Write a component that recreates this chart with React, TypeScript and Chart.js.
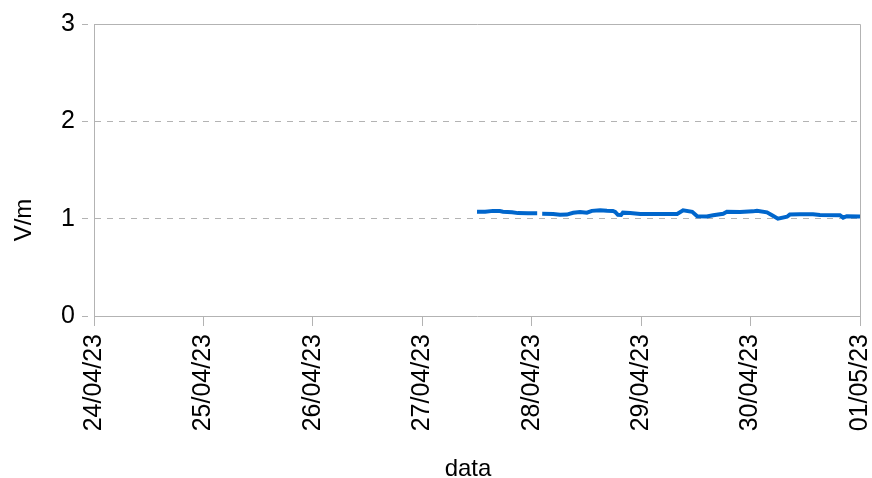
import React, { useEffect, useRef } from "react";
import { Chart, registerables } from "chart.js";

Chart.register(...registerables);

// Hours elapsed since 24/04/23 00:00
const hours: number[] = [
  84.0, 85.8, 87.5, 89.0, 89.7, 91.7, 93.0, 95.2, 97.2, 97.8,
  98.3, 100.7, 102.2, 103.7, 105.1, 106.6, 108.1, 109.2, 111.0, 112.5,
  113.8, 114.3, 114.9, 115.6, 116.0, 117.6, 119.8, 124.1, 127.9, 129.2,
  131.2, 132.3, 134.4, 135.8, 138.0, 138.8, 141.7, 144.5, 145.4, 147.6,
  148.9, 150.0, 152.0, 152.6, 154.8, 157.7, 159.2, 163.6, 164.3, 165.1,
  168.0,
];
// Electric field (V/m); null marks the gap in the record
const values: (number | null)[] = [
  1.072, 1.07, 1.08, 1.078, 1.072, 1.066, 1.057, 1.055, 1.055, null,
  1.05, 1.048, 1.04, 1.042, 1.06, 1.068, 1.062, 1.08, 1.086, 1.082,
  1.08, 1.07, 1.04, 1.038, 1.062, 1.058, 1.048, 1.048, 1.048, 1.085,
  1.07, 1.025, 1.022, 1.035, 1.05, 1.07, 1.068, 1.075, 1.082, 1.065,
  1.03, 1.0, 1.02, 1.042, 1.045, 1.045, 1.038, 1.035, 1.01, 1.025,
  1.022,
];
const tickLabels: string[] = [
  "24/04/23", "25/04/23", "26/04/23", "27/04/23",
  "28/04/23", "29/04/23", "30/04/23", "01/05/23",
];
const yTicks: number[] = [0, 1, 2, 3];
const xTitle = "data";
const yTitle = "V/m";

const FONT = "'Liberation Sans', Arial, sans-serif";
const GRID = "#b3b3b3";

const borderPlugin = {
  id: "plotBorder",
  afterDraw(chart: any) {
    const { ctx, chartArea } = chart;
    ctx.save();
    ctx.strokeStyle = GRID;
    ctx.lineWidth = 1;
    ctx.beginPath();
    ctx.moveTo(Math.round(chartArea.left) + 0.5, Math.round(chartArea.top) + 0.5);
    ctx.lineTo(Math.round(chartArea.right) + 0.5, Math.round(chartArea.top) + 0.5);
    ctx.lineTo(Math.round(chartArea.right) + 0.5, Math.round(chartArea.bottom) + 0.5);
    ctx.stroke();
    // axis titles
    ctx.fillStyle = "#000";
    ctx.font = `24px ${FONT}`;
    ctx.textAlign = "center";
    ctx.textBaseline = "alphabetic";
    ctx.fillText(xTitle, 468, 476);
    ctx.translate(31, 220);
    ctx.rotate(-Math.PI / 2);
    ctx.fillText(yTitle, 0, 0);
    ctx.restore();
  },
};

export default function App() {
  const ref = useRef<HTMLCanvasElement>(null);
  useEffect(() => {
    document.body.style.margin = "0";
    const pts = hours.map((h, i) => ({ x: h, y: values[i] }));
    const chart = new Chart(ref.current!, {
      type: "line",
      data: {
        datasets: [
          {
            data: pts as any,
            borderColor: "#0066cc",
            borderWidth: 4,
            pointRadius: 0,
            tension: 0,
            spanGaps: false,
            fill: false,
          },
        ],
      },
      options: {
        animation: false,
        responsive: false,
        maintainAspectRatio: false,
        layout: { padding: { top: 24, right: 12, left: 0, bottom: 0 } },
        plugins: { legend: { display: false }, tooltip: { enabled: false } },
        scales: {
          x: {
            type: "linear",
            min: 0,
            max: 168,
            afterBuildTicks(scale: any) {
              scale.ticks = tickLabels.map((_, i) => ({ value: i * 24 }));
            },
            afterFit(scale: any) {
              scale.height = 162;
              scale.paddingLeft = 0;
              scale.paddingRight = 0;
            },
            ticks: {
              autoSkip: false,
              minRotation: 90,
              maxRotation: 90,
              padding: 8,
              color: "#000",
              font: { family: FONT, size: 25 },
              callback: (_v: any, i: number) => tickLabels[i],
            },
            grid: {
              drawOnChartArea: false,
              drawTicks: true,
              tickLength: 10,
              tickColor: GRID,
              color: GRID,
            },
            border: { color: GRID },
          },
          y: {
            min: 0,
            max: 3,
            afterBuildTicks(scale: any) {
              scale.ticks = yTicks.map((v) => ({ value: v }));
            },
            afterFit(scale: any) {
              scale.width = 94;
              scale.paddingTop = 0;
              scale.paddingBottom = 0;
            },
            ticks: {
              padding: 7,
              color: "#000",
              font: { family: FONT, size: 25 },
              callback: (v: any) => String(v),
            },
            grid: {
              color: GRID,
              tickLength: 12,
              tickColor: GRID,
              tickBorderDash: [6, 6],
            } as any,
            border: { color: GRID, dash: [6, 6] } as any,
          },
        },
      } as any,
      plugins: [borderPlugin],
    });
    return () => chart.destroy();
  }, []);
  return (
    <div style={{ width: 872, height: 478 }}>
      <canvas ref={ref} width={872} height={478} style={{ display: "block" }} />
    </div>
  );
}
